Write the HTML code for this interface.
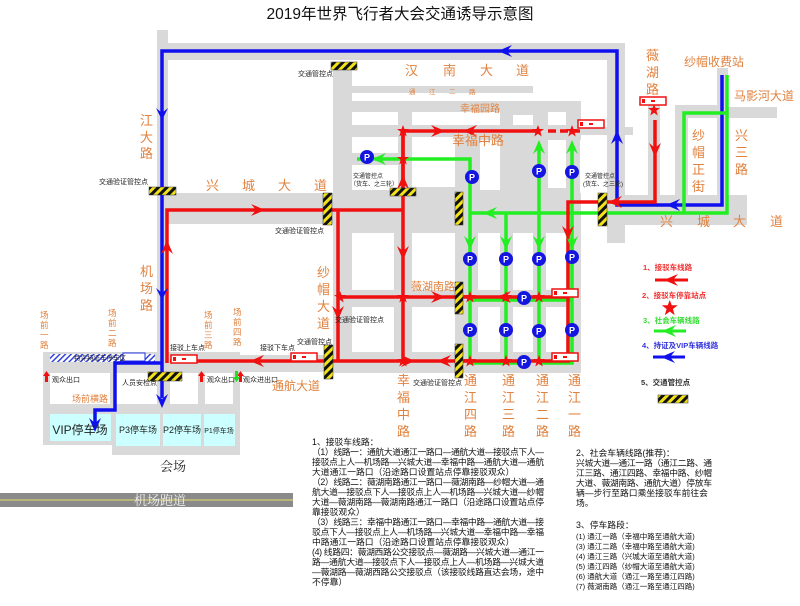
<!DOCTYPE html>
<html><head><meta charset="utf-8"><style>
html,body{margin:0;padding:0;background:#fff;}
svg{display:block;font-family:"Liberation Sans","Noto Sans CJK SC",sans-serif;}
.o{fill:#e0823f;}
.s{font-size:7px;fill:#222;}
.t{font-size:8.8px;fill:#111;}
</style></head><body>
<svg width="800" height="606" viewBox="0 0 800 606" xmlns="http://www.w3.org/2000/svg">
<defs>
<pattern id="bar" width="6" height="6" patternUnits="userSpaceOnUse" patternTransform="rotate(45)">
<rect width="6" height="6" fill="#111"/><rect width="3" height="6" fill="#f2e21a"/></pattern>
<pattern id="hat" width="4" height="4" patternUnits="userSpaceOnUse" patternTransform="rotate(45)">
<rect width="4" height="4" fill="#fff"/><rect width="1.5" height="4" fill="#3344dd"/></pattern>
<g id="P"><circle r="7" fill="#1515e0"/><text y="3.5" text-anchor="middle" font-size="9" font-weight="bold" fill="#fff">P</text></g>
<polygon id="st" points="0,-6 1.5,-2 6,-2 2.4,0.8 3.7,5.5 0,2.7 -3.7,5.5 -2.4,0.8 -6,-2 -1.5,-2" fill="#f01010"/>
<g id="bus"><rect x="0" y="0" width="26" height="8" fill="#fff" stroke="#f01010" stroke-width="1.5"/><rect x="2" y="2" width="3" height="4" fill="#f01010"/><rect x="11" y="3" width="4" height="2" fill="#f01010"/></g>
</defs>
<text x="400" y="19" text-anchor="middle" font-size="15.5" fill="#111">2019年世界飞行者大会交通诱导示意图</text>

<g fill="#d9d9d9">
<rect x="157" y="30" width="11" height="342"/>
<rect x="165" y="43" width="460" height="17"/>
<rect x="607" y="43" width="18" height="200"/>
<rect x="165" y="193" width="170" height="31"/>
<rect x="165" y="355" width="170" height="17"/>
<rect x="333" y="63" width="248" height="310"/>
<rect x="580" y="127" width="53" height="8"/>
<rect x="625" y="195" width="122" height="30"/>
<rect x="648" y="100" width="12" height="95"/>
<rect x="675" y="105" width="47" height="90"/>
<rect x="717" y="68" width="11" height="127"/>
<rect x="722" y="107" width="55" height="11"/>
<rect x="43" y="352" width="197" height="93"/>
<rect x="112" y="440" width="128" height="15"/>
</g>
<g fill="#fff">
<rect x="688" y="118" width="29" height="77"/>
<rect x="352" y="63" width="255" height="23"/>
<rect x="533" y="86" width="74" height="15"/>
<rect x="352" y="93" width="181" height="8"/>
<rect x="352" y="112" width="46" height="13"/>
<rect x="352" y="137" width="46" height="16"/>
<rect x="352" y="165" width="46" height="25"/>
<rect x="412" y="137" width="43" height="50"/>
<rect x="480" y="140" width="20" height="50"/>
<rect x="513" y="115" width="20" height="10"/>
<rect x="548" y="112" width="18" height="13"/>
<rect x="548" y="140" width="18" height="48"/>
<rect x="580" y="140" width="27" height="53"/>
<rect x="412" y="112" width="88" height="13"/>
<rect x="352" y="233" width="42" height="57"/>
<rect x="352" y="307" width="42" height="45"/>
<rect x="412" y="233" width="43" height="57"/>
<rect x="412" y="307" width="43" height="45"/>
<rect x="478" y="233" width="22" height="57"/>
<rect x="478" y="307" width="22" height="45"/>
<rect x="513" y="233" width="20" height="57"/>
<rect x="513" y="307" width="20" height="45"/>
<rect x="546" y="233" width="20" height="57"/>
<rect x="546" y="307" width="20" height="45"/>
<rect x="50" y="373" width="60" height="31"/>
<rect x="116" y="373" width="41" height="31"/>
<rect x="170" y="373" width="28" height="31"/>
<rect x="205" y="373" width="28" height="31"/>
</g>
<g fill="#ccffff">
<rect x="50" y="414" width="61" height="27"/>
<rect x="116" y="414" width="44" height="32"/>
<rect x="163" y="414" width="38" height="32"/>
<rect x="204" y="414" width="31" height="32"/>
</g>
<rect x="50" y="354" width="105" height="8" fill="url(#hat)"/>
<rect x="123" y="353" width="22" height="8" fill="#fff" stroke="#2233dd"/>
<text x="100" y="360" font-size="6.5" fill="#223" text-anchor="middle">特许持证车停车区</text>

<rect x="0" y="493" width="293" height="14" fill="#8a8a8a"/>
<line x1="0" y1="500" x2="293" y2="500" stroke="#e8e06a" stroke-width="1"/>
<text x="160" y="505" font-size="13" fill="#eee" text-anchor="middle" font-family="Liberation Serif,Noto Serif CJK SC,serif">机场跑道</text>
<text x="173" y="471" font-size="13" fill="#222" text-anchor="middle" font-family="Liberation Serif,Noto Serif CJK SC,serif">会场</text>

<g fill="none" stroke-width="3.5" stroke-linejoin="miter">
<polyline stroke="#1010ee" points="722,75 722,205 617,205 617,51 162,51 162,398"/>
<polyline stroke="#1010ee" points="162,363 115,363 115,410 95,410 95,425"/>
<polyline stroke="#22ee22" points="727,75 727,213 470,213"/>
<polyline stroke="#22ee22" points="684,213 684,113 727,113"/>
<polyline stroke="#22ee22" points="357,159 470,159 470,363 520,363"/>
<polyline stroke="#22ee22" points="506,213 506,363"/>
<polyline stroke="#22ee22" points="539,145 539,363"/>
<polyline stroke="#22ee22" points="572,145 572,363 539,363"/>
<polyline stroke="#22ee22" points="470,300 572,300"/>
<polyline stroke="#f01010" points="655,120 655,202 568,202 568,361"/>
<polyline stroke="#f01010" points="403,188 403,131 538,131"/>
<line x1="548" y1="131" x2="580" y2="131" stroke="#f01010" stroke-dasharray="8,4"/>
<polyline stroke="#f01010" points="403,131 403,361"/>
<polyline stroke="#f01010" points="167,363 167,210 403,210"/>
<polyline stroke="#f01010" points="338,210 338,361"/>
<polyline stroke="#f01010" points="338,297 568,297"/>
<polyline stroke="#f01010" points="170,361 568,361 568,357 578,357"/>
</g>
<g fill="#1010ee">
<polygon points="162,120 156,108 162,113 168,108"/>
<polygon points="162,300 156,288 162,293 168,288"/>
<polygon points="162,408 156,394 162,399 168,394"/>
<polygon points="95,432 89,418 95,423 101,418"/>
<polygon points="498,51 512,45 507,51 512,57"/>
<polygon points="617,130 611,144 617,139 623,144"/>
<polygon points="666,205 680,199 675,205 680,211"/>
</g>
<g fill="#22ee22">
<polygon points="372,159 386,153 381,159 386,165"/>
<polygon points="483,213 497,207 492,213 497,219"/>
<polygon points="539,140 533,154 539,149 545,154"/>
<polygon points="572,140 566,154 572,149 578,154"/>
<polygon points="470,250 464,236 470,241 476,236"/>
<polygon points="506,250 500,236 506,241 512,236"/>
<polygon points="539,250 533,236 539,241 545,236"/>
<polygon points="572,250 566,236 572,241 578,236"/>
</g>
<g fill="#f01010">
<polygon points="265,210 251,204 256,210 251,216"/>
<polygon points="167,240 161,254 167,249 173,254"/>
<polygon points="338,320 332,306 338,311 344,306"/>
<polygon points="403,260 397,246 403,251 409,246"/>
<polygon points="403,175 397,189 403,184 409,189"/>
<polygon points="445,131 431,125 436,131 431,137"/>
<polygon points="463,131 477,125 472,131 477,137"/>
<polygon points="655,157 649,143 655,148 661,143"/>
<polygon points="608,202 622,196 617,202 622,208"/>
<polygon points="568,240 562,226 568,231 574,226"/>
<polygon points="445,297 431,291 436,297 431,303"/>
<polygon points="497,297 511,291 506,297 511,303"/>
<polygon points="415,361 401,355 406,361 401,367"/>
<polygon points="437,361 451,355 446,361 451,367"/>
<polygon points="250,361 264,355 259,361 264,367"/>
</g>
<g>
<use href="#st" x="403" y="131"/><use href="#st" x="538" y="131"/><use href="#st" x="572" y="131"/>
<use href="#st" x="403" y="159"/><use href="#st" x="654" y="110"/>
<use href="#st" x="340" y="297"/><use href="#st" x="403" y="297"/><use href="#st" x="470" y="297"/><use href="#st" x="506" y="297"/><use href="#st" x="539" y="297"/>
<use href="#st" x="403" y="361"/><use href="#st" x="470" y="361"/><use href="#st" x="506" y="361"/><use href="#st" x="539" y="361"/>
</g>
<g>
<use href="#P" x="367" y="157"/><use href="#P" x="472" y="177"/><use href="#P" x="539" y="171"/><use href="#P" x="572" y="172"/>
<use href="#P" x="470" y="259"/><use href="#P" x="506" y="259"/><use href="#P" x="539" y="259"/><use href="#P" x="572" y="257"/>
<use href="#P" x="524" y="298"/>
<use href="#P" x="470" y="330"/><use href="#P" x="506" y="330"/><use href="#P" x="539" y="331"/><use href="#P" x="572" y="330"/>
<use href="#P" x="524" y="362"/>
</g>
<use href="#bus" x="640" y="97"/><use href="#bus" x="578" y="120"/><use href="#bus" x="552" y="289"/><use href="#bus" x="552" y="353"/>
<use href="#bus" x="171" y="355"/><use href="#bus" x="291" y="353"/>
<g fill="url(#bar)" stroke="#333" stroke-width="0.5">
<rect x="331" y="62" width="26" height="8"/>
<rect x="149" y="187" width="27" height="8"/>
<rect x="323" y="193" width="9" height="32"/>
<rect x="390" y="188" width="26" height="8"/>
<rect x="455" y="192" width="8" height="33"/>
<rect x="598" y="193" width="9" height="33"/>
<rect x="455" y="282" width="8" height="32"/>
<rect x="455" y="344" width="8" height="34"/>
<rect x="324" y="345" width="9" height="34"/>
<rect x="148" y="372" width="34" height="9"/>
<rect x="658" y="395" width="30" height="8"/>
</g>
<g class="s">
<text x="298" y="76">交通管控点</text>
<text x="99" y="184">交通验证管控点</text>
<text x="275" y="233">交通验证管控点</text>
<text x="353" y="178" font-size="6">交通管控点</text><text x="350" y="186" font-size="6">（货车、之三轮）</text>
<text x="585" y="178" font-size="6">交通管控点</text><text x="583" y="186" font-size="6">(货车、之三轮)</text>
<text x="335" y="322">交通验证管控点</text>
<text x="297" y="344">交通管控点</text>
<text x="413" y="385">交通验证管控点</text>
<text x="170" y="350">接驳上车点</text>
<text x="260" y="350">接驳下车点</text>
<text x="52" y="382">观众出口</text>
<text x="122" y="385">人员安检点</text>
<text x="207" y="382">观众出口</text>
<text x="243" y="382">观众进出口</text>
</g>
<g fill="#f01010"><polygon points="45,382 45,376 43,376 46.5,371 50,376 48,376 48,382"/><polygon points="200,382 200,376 198,376 201.5,371 205,376 203,376 203,382"/><polygon points="239,382 239,376 237,376 240.5,371 244,376 242,376 242,382"/></g>
<g fill="#22dd22"><polygon points="235,371 235,377 233,377 236.5,382 240,377 238,377 238,371"/></g>
<text x="90" y="402" font-size="9" class="o" text-anchor="middle">场前横路</text>
<text x="80" y="434" font-size="12" text-anchor="middle" fill="#222">VIP停车场</text>
<text x="138" y="433" font-size="9" text-anchor="middle" fill="#222">P3停车场</text>
<text x="182" y="433" font-size="9" text-anchor="middle" fill="#222">P2停车场</text>
<text x="219" y="433" font-size="7" text-anchor="middle" fill="#222">P1停车场</text>

<g class="o" font-size="13">
<text x="140" y="125">江</text><text x="140" y="142">大</text><text x="140" y="158">路</text>
<text x="140" y="276">机</text><text x="140" y="293">场</text><text x="140" y="310">路</text>
<text x="206" y="190">兴</text><text x="242" y="190">城</text><text x="278" y="190">大</text><text x="314" y="190">道</text>
<text x="405" y="75">汉</text><text x="443" y="75">南</text><text x="480" y="75">大</text><text x="516" y="75">道</text>
<text x="460" y="112" font-size="10">幸福园路</text>
<text x="452" y="145" font-size="13">幸福中路</text>
<text x="411" y="290" font-size="11">薇湖南路</text>
<text x="272" y="390" font-size="12">通航大道</text>
<text x="317" y="277">纱</text><text x="317" y="294">帽</text><text x="317" y="311">大</text><text x="317" y="328">道</text>
<text x="397" y="385">幸</text><text x="397" y="402">福</text><text x="397" y="419">中</text><text x="397" y="436">路</text>
<text x="464" y="385">通</text><text x="464" y="402">江</text><text x="464" y="419">四</text><text x="464" y="436">路</text>
<text x="502" y="385">通</text><text x="502" y="402">江</text><text x="502" y="419">三</text><text x="502" y="436">路</text>
<text x="536" y="385">通</text><text x="536" y="402">江</text><text x="536" y="419">二</text><text x="536" y="436">路</text>
<text x="568" y="385">通</text><text x="568" y="402">江</text><text x="568" y="419">一</text><text x="568" y="436">路</text>
<text x="646" y="60">薇</text><text x="646" y="77">湖</text><text x="646" y="94">路</text>
<text x="684" y="66" font-size="12">纱帽收费站</text>
<text x="734" y="100" font-size="12">马影河大道</text>
<text x="692" y="140">纱</text><text x="692" y="157">帽</text><text x="692" y="174">正</text><text x="692" y="191">街</text>
<text x="735" y="140">兴</text><text x="735" y="157">三</text><text x="735" y="174">路</text>
<text x="660" y="226">兴</text><text x="697" y="226">城</text><text x="733" y="226">大</text><text x="770" y="226">道</text>
<text x="409" y="94" font-size="6.5">通</text><text x="429" y="94" font-size="6.5">江</text><text x="449" y="94" font-size="6.5">二</text><text x="469" y="94" font-size="6.5">路</text>
</g>
<g class="o" font-size="8.5">
<text x="40" y="318">场</text><text x="40" y="328">前</text><text x="40" y="338">一</text><text x="40" y="348">路</text>
<text x="108" y="316">场</text><text x="108" y="326">前</text><text x="108" y="336">二</text><text x="108" y="346">路</text>
<text x="204" y="318">场</text><text x="204" y="328">前</text><text x="204" y="338">三</text><text x="204" y="348">路</text>
<text x="233" y="315">场</text><text x="233" y="325">前</text><text x="233" y="335">四</text><text x="233" y="345">路</text>
</g>

<g font-size="7.5" font-weight="bold">
<text x="643" y="270" fill="#f03030">1、接驳车线路</text>
<text x="642" y="298" fill="#f03030">2、接驳车停靠站点</text>
<text x="643" y="323" fill="#33dd33">3、社会车辆线路</text>
<text x="642" y="348" fill="#3333dd">4、持证及VIP车辆线路</text>
<text x="641" y="385" fill="#333">5、交通管控点</text>
</g>
<g stroke-width="3"><line x1="655" y1="280" x2="688" y2="280" stroke="#f01010"/><line x1="654" y1="331" x2="686" y2="331" stroke="#22ee22"/><line x1="653" y1="357" x2="685" y2="357" stroke="#1010ee"/></g>
<polygon points="664,280 678,274 673,280 678,286" fill="#f01010"/>
<polygon points="662,331 676,325 671,331 676,337" fill="#22ee22"/>
<polygon points="661,357 675,351 670,357 675,363" fill="#1010ee"/>
<use href="#st" x="672" y="309" transform="translate(-224,-103) scale(1.33)"/>

<g class="t">
<text x="312" y="445">1、接驳车线路：</text>
<text x="312" y="455" textLength="232">（1）线路一：通航大道通江一路口—通航大道—接驳点下人—</text>
<text x="312" y="465" textLength="232">接驳点上人—机场路—兴城大道—幸福中路—通航大道—通航</text>
<text x="312" y="475">大道通江一路口（沿途路口设置站点停靠接驳观众）</text>
<text x="312" y="485" textLength="232">（2）线路二：薇湖南路通江一路口—薇湖南路—纱帽大道—通</text>
<text x="312" y="495" textLength="232">航大道—接驳点下人—接驳点上人—机场路—兴城大道—纱帽</text>
<text x="312" y="505" textLength="232">大道—薇湖南路—薇湖南路通江一路口（沿途路口设置站点停</text>
<text x="312" y="515">靠接驳观众）</text>
<text x="312" y="525" textLength="232">（3）线路三：幸福中路通江一路口—幸福中路—通航大道—接</text>
<text x="312" y="535" textLength="232">驳点下人—接驳点上人—机场路—兴城大道—幸福中路—幸福</text>
<text x="312" y="545">中路通江一路口（沿途路口设置站点停靠接驳观众）</text>
<text x="312" y="555" textLength="232">(4) 线路四：薇湖西路公交接驳点—薇湖路—兴城大道—通江一</text>
<text x="312" y="565" textLength="232">路—通航大道—接驳点下人—接驳点上人—机场路—兴城大道</text>
<text x="312" y="575" textLength="232">—薇湖路—薇湖西路公交接驳点（该接驳线路直达会场，途中</text>
<text x="312" y="585">不停靠）</text>
<text x="576" y="456">2、社会车辆线路(推荐)：</text>
<text x="576" y="466" textLength="136">兴城大道—通江一路（通江二路、通</text>
<text x="576" y="476" textLength="136">江三路、通江四路、幸福中路、纱帽</text>
<text x="576" y="486" textLength="136">大道、薇湖南路、通航大道）停放车</text>
<text x="576" y="496">辆—步行至路口乘坐接驳车前往会</text>
<text x="576" y="506">场。</text>
<text x="576" y="528">3、停车路段：</text>
</g>
<g font-size="7.5" fill="#111">
<text x="576" y="539">(1) 通江一路（幸福中路至通航大道)</text>
<text x="576" y="549">(3) 通江二路（幸福中路至通航大道)</text>
<text x="576" y="559">(4) 通江三路（兴城大道至通航大道)</text>
<text x="576" y="569">(5) 通江四路（纱帽大道至通航大道)</text>
<text x="576" y="579">(6) 通航大道（通江一路至通江四路)</text>
<text x="576" y="589">(7) 薇湖南路（通江一路至通江四路)</text>
</g>
</svg>
</body></html>
